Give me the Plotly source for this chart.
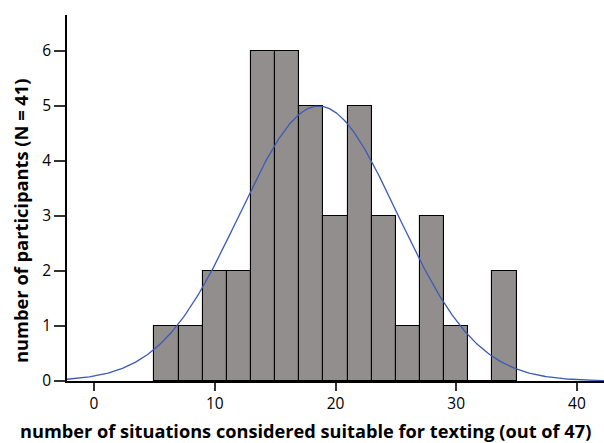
import numpy as np
import plotly.graph_objects as go

bin_centers = [6, 8, 10, 12, 14, 16, 18, 20, 22, 24, 26, 28, 30, 32, 34]
counts = [1, 1, 2, 2, 6, 6, 5, 3, 5, 3, 1, 3, 1, 0, 2]
bin_width = 2
n_total = 41
fit_mean = 18.6
fit_sd = 6.55
x_ticks = [0, 10, 20, 30, 40]
y_ticks = [0, 1, 2, 3, 4, 5, 6]
x_title = "number of situations considered suitable for texting (out of 47)"
y_title = "number of participants (N = 41)"

xs = np.linspace(-2.3, 42.3, 400)
ys = n_total * bin_width * np.exp(-0.5 * ((xs - fit_mean) / fit_sd) ** 2) / (fit_sd * np.sqrt(2 * np.pi))

fig = go.Figure()
fig.add_trace(go.Bar(
    x=bin_centers, y=counts, width=bin_width,
    marker=dict(color="#928e8d", line=dict(color="black", width=1.1)),
    showlegend=False,
))
fig.add_trace(go.Scatter(
    x=xs, y=ys, mode="lines",
    line=dict(color="#3b5bb5", width=1.3),
    showlegend=False,
))
font = "Open Sans, Lato, sans-serif"
fig.update_layout(
    width=604, height=443,
    margin=dict(l=67, r=0, t=15, b=62),
    plot_bgcolor="white", paper_bgcolor="white",
    bargap=0,
    font=dict(family=font, size=15, color="black"),
    annotations=[
        dict(text="<b>" + x_title + "</b>", xref="paper", yref="paper",
             x=(305 - 67) / 537, y=0, xanchor="center", yanchor="middle",
             yshift=-50, showarrow=False, font=dict(family=font, size=18.2)),
        dict(text="<b>" + y_title + "</b>", xref="paper", yref="paper",
             x=0, y=(381 - 221) / 366, xanchor="center", yanchor="middle",
             xshift=-46, textangle=-90, showarrow=False,
             font=dict(family=font, size=18.3)),
    ],
)
fig.update_xaxes(
    range=[-2.24, 42.24], tickvals=x_ticks,
    showgrid=False, zeroline=False,
    showline=True, linecolor="black", linewidth=1.5,
    ticks="outside", ticklen=8, tickwidth=1.5, tickcolor="#333",
    tickfont=dict(family=font, size=15.5),
)
fig.update_yaxes(
    range=[0, 6.65], tickvals=y_ticks,
    showgrid=False, zeroline=False,
    showline=True, linecolor="black", linewidth=1.5,
    ticks="outside", ticklen=11, tickwidth=1.5, tickcolor="#333",
    tickfont=dict(family=font, size=15.5),
)
fig.write_html("out.html")
